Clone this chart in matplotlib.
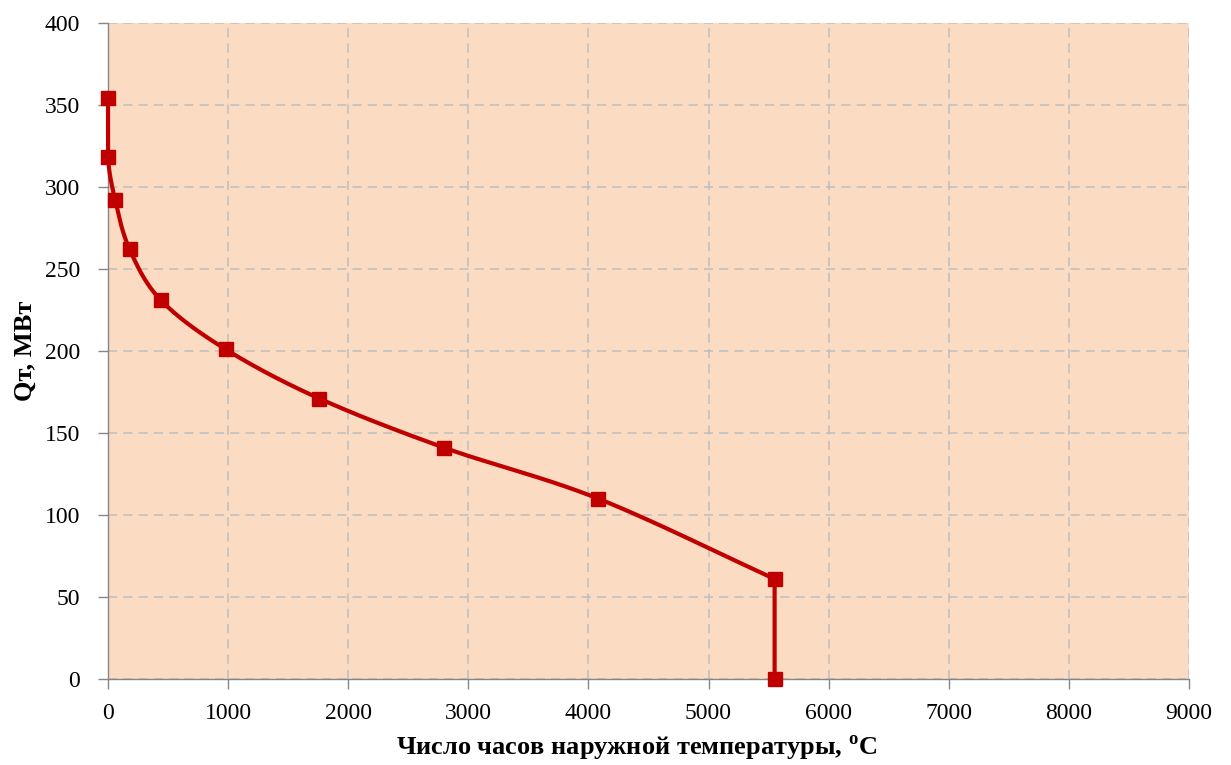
import numpy as np
import matplotlib
matplotlib.use("Agg")
import matplotlib.pyplot as plt

hours = [0, 0, 60, 180, 440, 980, 1760, 2800, 4080, 5550, 5550]
q_mw = [354, 318, 292, 262, 231, 201, 171, 141, 110, 61, 0]
x_ticks = list(range(0, 9001, 1000))
y_ticks = list(range(0, 401, 50))

plt.rcParams['font.family'] = ['Liberation Serif', 'DejaVu Serif']
plt.rcParams['mathtext.fontset'] = 'custom'
plt.rcParams['mathtext.rm'] = 'Liberation Serif'
plt.rcParams['mathtext.bf'] = 'Liberation Serif:bold'

W, H = 1231, 765
fig = plt.figure(figsize=(W / 100, H / 100), dpi=100)
ax = fig.add_axes([108 / W, (H - 679) / H, (1189 - 108) / W, (679 - 23) / H])
ax.set_facecolor('#FBDCC3')
ax.set_xlim(0, 9000)
ax.set_ylim(0, 400)


def smooth(xs, ys, n=40, t=1/6):
    # Bezier smoothing in display-proportional coordinates, control points kept
    # inside each segment's bounding box (no overshoot)
    sx, sy = 1081 / 9000, 656 / 400
    P = np.column_stack([np.array(xs) * sx, np.array(ys) * sy])
    out = [P[0]]
    for i in range(len(P) - 1):
        p0 = P[i - 1] if i > 0 else P[i]
        p1, p2 = P[i], P[i + 1]
        p3 = P[i + 2] if i + 2 < len(P) else P[i + 1]
        lo = np.minimum(p1, p2)
        hi = np.maximum(p1, p2)
        c1 = np.clip(p1 + (p2 - p0) * t, lo, hi)
        c2 = np.clip(p2 - (p3 - p1) * t, lo, hi)
        if i + 2 < len(P) and p3[0] == p2[0] and i > 0:
            c2 = p2 + (p1 - p2) * 0.3  # corner before a vertical drop
        s = np.linspace(0, 1, n)[1:, None]
        seg = ((1 - s) ** 3) * p1 + 3 * ((1 - s) ** 2) * s * c1 + 3 * (1 - s) * s ** 2 * c2 + s ** 3 * p2
        out.extend(seg)
    out = np.array(out)
    return out[:, 0] / sx, out[:, 1] / sy


cx, cy = smooth(hours, q_mw)
ax.plot(cx, cy, color='#C00000', lw=3.0, zorder=3, clip_on=False, solid_capstyle='butt')
ax.plot(hours, q_mw, ls='none', marker='s', ms=10, color='#C00000', zorder=4, clip_on=False)

ax.set_xticks(x_ticks)
ax.set_yticks(y_ticks)
ax.grid(True, color='#BEBEBE', ls=(0, (6, 4)), lw=1.1)
ax.set_axisbelow(True)
for s in ['top', 'right']:
    ax.spines[s].set_visible(False)
for s in ['left', 'bottom']:
    ax.spines[s].set_color('#868686')
    ax.spines[s].set_linewidth(1.0)
ax.tick_params(axis='both', colors='#868686', labelcolor='black', labelsize=17, length=7, width=1.0)
ax.tick_params(axis='x', pad=10)
ax.tick_params(axis='y', pad=13)

ax.set_xlabel(r'Число часов наружной температуры, $^\mathbf{o}$C', fontsize=19, fontweight='bold')
ax.xaxis.set_label_coords((637 - 108) / (1189 - 108), -(748 - 679) / (679 - 23), transform=ax.transAxes)
ax.xaxis.label.set_va('center')
ax.set_ylabel('Qт, МВт', fontsize=19, fontweight='bold')
ax.yaxis.set_label_coords(-(108 - 25) / (1189 - 108), 0.5, transform=ax.transAxes)
ax.yaxis.label.set_va('center')

fig.savefig('out.png', dpi=100)
